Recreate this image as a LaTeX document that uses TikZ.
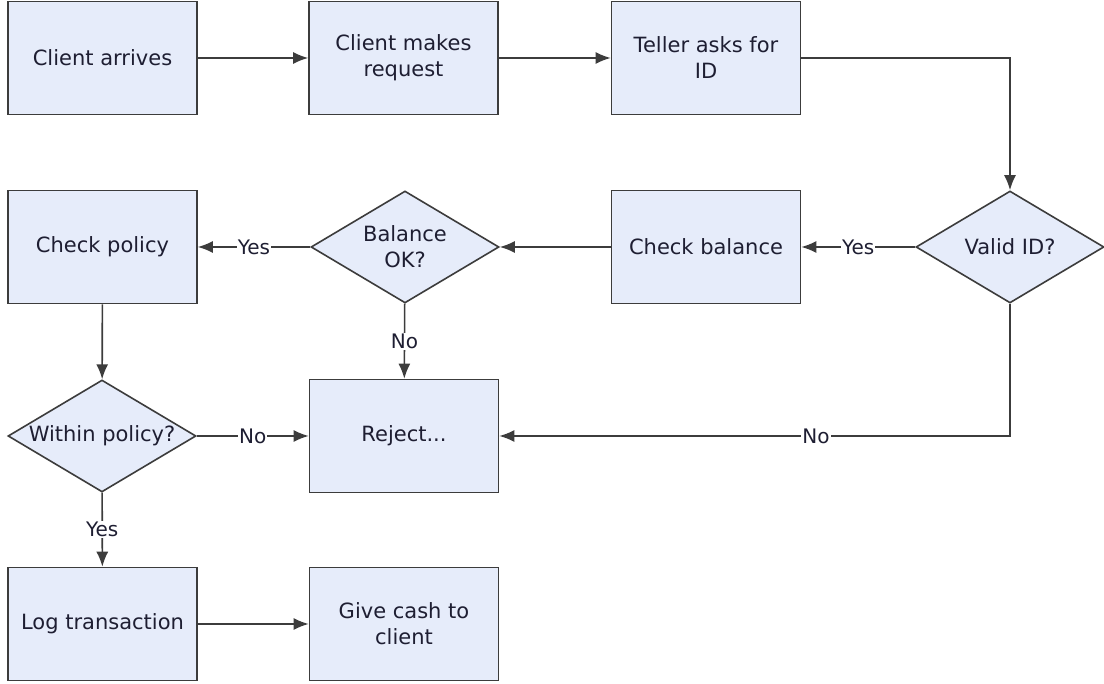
\documentclass[tikz,border=0pt]{standalone}
\usepackage{fontspec}
\setmainfont{DejaVu Sans}
\usetikzlibrary{shapes.geometric,arrows.meta}

\begin{document}
\begin{tikzpicture}[x=1pt,y=1pt,
  stepbox/.style={draw=drawColor,fill=fillColor,line width=1.6pt,minimum width=189,minimum height=113,align=center,inner sep=2pt,text=textColor,font=\fontsize{21}{26}\selectfont},
  decision/.style={diamond,aspect=1.68,draw=drawColor,fill=fillColor,line width=1.6pt,minimum width=188,minimum height=112,inner sep=0pt,align=center,text=textColor,font=\fontsize{21}{26}\selectfont},
  flow/.style={draw=drawColor,line width=1.6pt,-{Latex[length=15pt,width=12pt]}},
  answer/.style={fill=white,inner sep=1pt,text=textColor,font=\fontsize{20}{24}\selectfont}]
\definecolor{drawColor}{RGB}{60,60,60}
\definecolor{fillColor}{RGB}{230,236,250}
\definecolor{textColor}{RGB}{30,30,50}
\path[use as bounding box,fill=white] (0,0) rectangle (1104,684);

% first row
\node[stepbox] (arrive) at (102.5,626) {Client arrives};
\node[stepbox] (request) at (403.5,626) {Client makes\\request};
\node[stepbox] (askid) at (706,626) {Teller asks for\\ID};

% second row
\node[decision] (validid) at (1010,437) {Valid ID?};
\node[stepbox] (checkbal) at (706,437) {Check balance};
\node[decision] (balok) at (405,437) {Balance\\OK?};
\node[stepbox] (checkpol) at (102.5,437) {Check policy};

% third row
\node[decision] (withinpol) at (102,248) {Within policy?};
\node[stepbox] (reject) at (404,248) {Reject...};

% last row
\node[stepbox] (logtx) at (102.5,60) {Log transaction};
\node[stepbox] (givecash) at (404,60) {Give cash to\\client};

\draw[flow] (arrive) -- (request);
\draw[flow] (request) -- (askid);
\draw[flow] (askid) -| (validid);
\draw[flow] (validid) -- node[answer] {Yes} (checkbal);
\draw[flow] (checkbal) -- (balok);
\draw[flow] (balok) -- node[answer] {Yes} (checkpol);
\draw[flow] (balok) -- node[answer] {No} (reject);
\draw[flow] (validid) |- node[answer,pos=0.69] {No} (reject);
\draw[flow] (checkpol) -- (withinpol);
\draw[flow] (withinpol) -- node[answer] {No} (reject);
\draw[flow] (withinpol) -- node[answer] {Yes} (logtx);
\draw[flow] (logtx) -- (givecash);
\end{tikzpicture}
\end{document}
